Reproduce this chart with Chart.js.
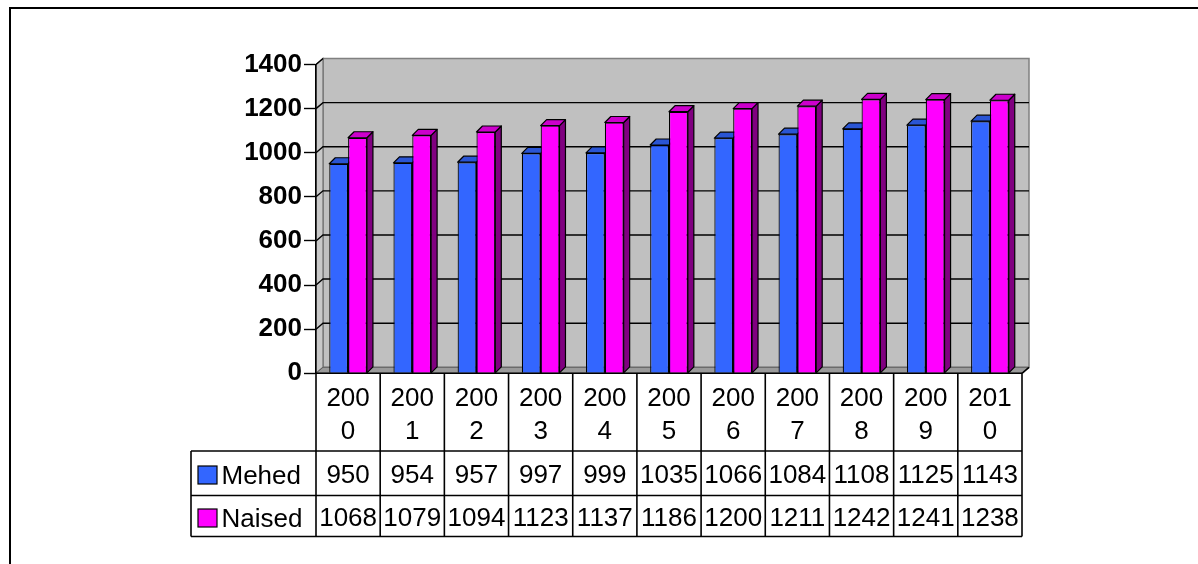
<!DOCTYPE html>
<html><head><meta charset="utf-8">
<script src="https://cdn.jsdelivr.net/npm/chart.js@4/dist/chart.umd.min.js"></script>
<style>html,body{margin:0;padding:0;background:#fff;overflow:hidden}canvas{display:block}</style>
</head><body>
<div style="width:1198px;height:564px"><canvas id="c" width="1198" height="564"></canvas></div>
<script>
// ---- data ----
const categories = ['2000','2001','2002','2003','2004','2005','2006','2007','2008','2009','2010'];
const seriesNames = ['Mehed','Naised'];
const mehed  = [950, 954, 957, 997, 999, 1035, 1066, 1084, 1108, 1125, 1143];
const naised = [1068, 1079, 1094, 1123, 1137, 1186, 1200, 1211, 1242, 1241, 1238];
const yMin = 0, yMax = 1400, yStep = 200;

// ---- styles ----
const FONT = "'Liberation Sans', Arial, sans-serif";
const frontColors = ['#3366FF', '#FF00FF'];
const topColors   = ['#2A55D4', '#CC00CC'];
const sideColors  = ['#1A3380', '#800080'];
const WALL_DX = 7, WALL_DY = -6;   // 3D depth of walls
const BAR_DX = 6, BAR_DY = -6;     // 3D depth of bars

const wallsPlugin = {
  id: 'walls',
  beforeDraw(chart) {
    const ctx = chart.ctx, a = chart.chartArea, ys = chart.scales.y;
    ctx.save();
    ctx.fillStyle = '#fff';
    ctx.fillRect(0, 0, chart.width, chart.height);
    // outer frame (top + left)
    ctx.strokeStyle = '#000'; ctx.lineWidth = 2;
    ctx.beginPath(); ctx.moveTo(9, 8); ctx.lineTo(chart.width, 8); ctx.stroke();
    ctx.beginPath(); ctx.moveTo(10, 7); ctx.lineTo(10, chart.height); ctx.stroke();
    const L = a.left, R = a.right, T = a.top, B = a.bottom;
    // back wall
    ctx.fillStyle = '#C0C0C0';
    ctx.fillRect(L + WALL_DX, T + WALL_DY, R - L, B - T);
    ctx.strokeStyle = '#808080'; ctx.lineWidth = 1.5;
    ctx.strokeRect(L + WALL_DX, T + WALL_DY, R - L, B - T);
    // side wall
    ctx.fillStyle = '#C8C8C8';
    ctx.beginPath();
    ctx.moveTo(L, T); ctx.lineTo(L + WALL_DX, T + WALL_DY);
    ctx.lineTo(L + WALL_DX, B + WALL_DY); ctx.lineTo(L, B); ctx.closePath();
    ctx.fill(); ctx.strokeStyle = '#707070'; ctx.lineWidth = 1.2; ctx.stroke();
    // floor
    ctx.fillStyle = '#9A9A9A';
    ctx.beginPath();
    ctx.moveTo(L, B); ctx.lineTo(R, B); ctx.lineTo(R + WALL_DX, B + WALL_DY);
    ctx.lineTo(L + WALL_DX, B + WALL_DY); ctx.closePath();
    ctx.fill(); ctx.strokeStyle = '#606060'; ctx.lineWidth = 1; ctx.stroke();
    // gridlines on back wall
    ctx.strokeStyle = '#000'; ctx.lineWidth = 1.4;
    for (let v = yMin + yStep; v < yMax; v += yStep) {
      const y = ys.getPixelForValue(v);
      ctx.beginPath();
      ctx.moveTo(L, y); ctx.lineTo(L + WALL_DX, y + WALL_DY); ctx.lineTo(R + WALL_DX, y + WALL_DY);
      ctx.stroke();
    }
    // top diagonal
    const yt = ys.getPixelForValue(yMax);
    ctx.strokeStyle = '#000';
    ctx.beginPath(); ctx.moveTo(L, yt); ctx.lineTo(L + WALL_DX, yt + WALL_DY); ctx.stroke();
    ctx.restore();
  },
  beforeDatasetsDraw(chart) {
    const ctx = chart.ctx;
    ctx.save();
    ctx.strokeStyle = '#000'; ctx.lineWidth = 1.2; ctx.lineJoin = 'round';
    chart.data.datasets.forEach((ds, di) => {
      const meta = chart.getDatasetMeta(di);
      meta.data.forEach(el => {
        const p = el.getProps(['x', 'y', 'width', 'base'], true);
        const l = p.x - p.width / 2, r = p.x + p.width / 2, t = p.y, b = p.base;
        // side
        ctx.fillStyle = sideColors[di];
        ctx.beginPath();
        ctx.moveTo(r, t); ctx.lineTo(r + BAR_DX, t + BAR_DY);
        ctx.lineTo(r + BAR_DX, b + BAR_DY); ctx.lineTo(r, b); ctx.closePath();
        ctx.fill(); ctx.stroke();
        // top
        ctx.fillStyle = topColors[di];
        ctx.beginPath();
        ctx.moveTo(l, t); ctx.lineTo(l + BAR_DX, t + BAR_DY);
        ctx.lineTo(r + BAR_DX, t + BAR_DY); ctx.lineTo(r, t); ctx.closePath();
        ctx.fill(); ctx.stroke();
      });
    });
    ctx.restore();
  },
  afterDraw(chart) {
    const ctx = chart.ctx, a = chart.chartArea, xs = chart.scales.x;
    const L = a.left, R = a.right, B = a.bottom;
    const n = chart.data.labels.length;
    const colW = (R - L) / n;
    const rowCatBottom = 451, rowM = 495.5, rowN = 536.5, legL = 191;
    ctx.save();
    ctx.strokeStyle = '#000'; ctx.lineWidth = 1.6;
    // category row top line and verticals
    ctx.beginPath(); ctx.moveTo(L, B); ctx.lineTo(R, B); ctx.stroke();
    ctx.beginPath(); ctx.moveTo(R, B); ctx.lineTo(R + WALL_DX, B + WALL_DY); ctx.stroke();
    for (let i = 0; i <= n; i++) {
      const x = L + i * colW;
      ctx.beginPath(); ctx.moveTo(x, B); ctx.lineTo(x, rowN); ctx.stroke();
    }
    // horizontal rows
    [rowCatBottom, rowM, rowN].forEach(y => {
      ctx.beginPath(); ctx.moveTo(legL, y); ctx.lineTo(R, y); ctx.stroke();
    });
    ctx.beginPath(); ctx.moveTo(legL, rowCatBottom); ctx.lineTo(legL, rowN); ctx.stroke();
    // category labels (wrapped like the original)
    ctx.fillStyle = '#000';
    ctx.font = '26px ' + FONT;
    ctx.textAlign = 'center'; ctx.textBaseline = 'alphabetic';
    chart.data.labels.forEach((lab, i) => {
      const x = xs.getPixelForValue(i);
      ctx.fillText(lab.slice(0, 3), x, 406);
      ctx.fillText(lab.slice(3), x, 438.5);
    });
    // values
    const baselines = [483, 526];
    chart.data.datasets.forEach((ds, di) => {
      ctx.textAlign = 'center';
      ds.data.forEach((v, i) => {
        ctx.fillText(String(v), xs.getPixelForValue(i), baselines[di]);
      });
      // legend key + name
      const ky = baselines[di] - 17;
      ctx.fillStyle = frontColors[di];
      ctx.fillRect(198, ky, 19, 18);
      ctx.lineWidth = 1.2; ctx.strokeRect(198, ky, 19, 18);
      ctx.fillStyle = '#000';
      ctx.textAlign = 'left';
      ctx.fillText(ds.label, 221.5, baselines[di] + 1);
    });
    ctx.restore();
  }
};

new Chart(document.getElementById('c'), {
  type: 'bar',
  data: {
    labels: categories,
    datasets: [
      { label: seriesNames[0], data: mehed, backgroundColor: frontColors[0], borderColor: '#000', borderWidth: 1.2 },
      { label: seriesNames[1], data: naised, backgroundColor: frontColors[1], borderColor: '#000', borderWidth: 1.2 }
    ]
  },
  options: {
    responsive: false,
    animation: false,
    devicePixelRatio: 1,
    layout: { padding: { left: 0, top: 64.5, right: 176, bottom: 190.7 } },
    datasets: { bar: { categoryPercentage: 0.587, barPercentage: 1.0 } },
    plugins: { legend: { display: false }, tooltip: { enabled: false } },
    scales: {
      x: { display: false, offset: true },
      y: {
        min: yMin, max: yMax,
        ticks: { stepSize: yStep, color: '#000', padding: 2, font: { family: FONT, size: 26, weight: 'bold' },
                 callback: v => String(v) },
        grid: { drawOnChartArea: false, drawTicks: true, tickLength: 12, tickColor: '#000', tickWidth: 1.4 },
        border: { display: true, color: '#000', width: 1.6 },
        afterFit(scale) { scale.width = 316; }
      }
    }
  },
  plugins: [wallsPlugin]
});
</script>
</body></html>
